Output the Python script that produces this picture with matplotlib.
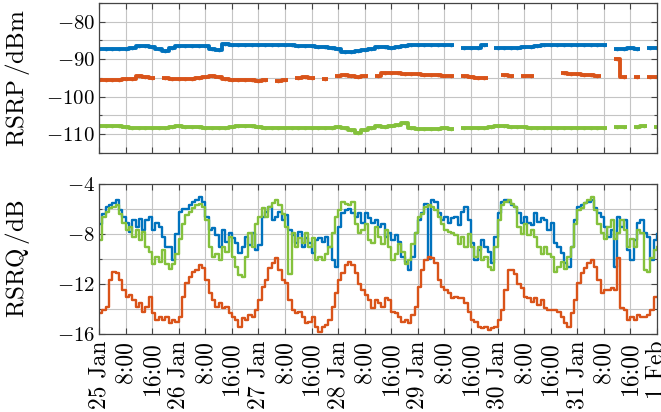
import numpy as np
import pandas as pd
import matplotlib
matplotlib.use("Agg")
import matplotlib.pyplot as plt
from matplotlib.ticker import MultipleLocator

plt.rcParams.update({
    "font.family": "serif",
    "font.serif": ["cmr10"],
    "mathtext.fontset": "cm",
    "axes.formatter.use_mathtext": True,
    "font.size": 15,
})

nan = np.nan

# RSRQ, hourly samples from 25 Jan 0:00 to 1 Feb 0:00 (one row = 8 h)
rsrq_blue = [
    -7.2, -6.4, -5.8, -5.7, -5.5, -5.3, -6.1, -6.6,
    -7.1, -7.8, -6.9, -7.4, -6.8, -7.7, -6.9, -6.6,
    -7.7, -7.1, -7.4, -8.2, -9.0, -9.0, -10.1, -8.0,
    -6.2, -6.0, -6.0, -5.7, -5.4, -5.3, -5.0, -5.4,
    -6.6, -7.7, -7.5, -8.1, -9.0, -7.7, -8.6, -7.9,
    -8.3, -8.7, -9.5, -9.0, -8.2, -8.9, -7.9, -9.3,
    -8.9, -6.6, -6.2, -5.8, -6.9, -6.6, -6.2, -6.9,
    -6.5, -7.7, -8.1, -8.7, -7.8, -9.0, -8.3, -8.7,
    -9.5, -8.5, -8.3, -8.6, -8.2, -9.0, -10.1, -10.6,
    -7.4, -6.3, -6.1, -6.0, -6.3, -6.6, -6.3, -7.1,
    -6.3, -6.7, -7.1, -6.9, -7.4, -7.2, -8.2, -7.9,
    -8.5, -8.1, -8.6, -9.8, -10.2, -10.9, -9.8, -7.9,
    -6.9, -6.3, -5.6, -10.0, -5.3, -5.4, -6.3, -6.9,
    -6.6, -7.1, -6.7, -6.6, -7.3, -6.2, -5.8, -6.9,
    -8.7, -10.1, -9.3, -8.5, -9.0, -9.4, -10.3, -8.2,
    -6.3, -5.4, -5.3, -5.4, -5.7, -5.8, -6.3, -7.1,
    -6.6, -7.1, -7.3, -6.3, -7.0, -6.7, -6.9, -7.7,
    -7.1, -8.7, -9.0, -9.5, -10.3, -10.6, -9.0, -6.9,
    -5.8, -5.7, -5.5, -5.4, -5.3, -5.9, -6.3, -6.6,
    -7.4, -8.2, -7.7, -10.6, -6.6, -7.4, -6.9, -9.3,
    -10.1, -8.5, -7.1, -6.9, -7.9, -8.2, -10.1, -8.5,
    -8.0,
]
rsrq_orange = [
    -14.3, -14.1, -13.8, -11.7, -11.0, -11.1, -11.7, -12.5,
    -13.0, -12.9, -13.3, -13.8, -13.5, -14.2, -13.8, -13.0,
    -14.3, -14.9, -14.6, -14.9, -14.6, -15.1, -14.9, -15.0,
    -14.6, -13.0, -11.9, -11.4, -11.0, -10.9, -10.5, -10.7,
    -11.7, -12.7, -13.3, -13.8, -13.5, -13.9, -13.8, -14.3,
    -14.6, -14.9, -15.4, -14.7, -14.9, -14.5, -14.6, -14.1,
    -13.3, -12.2, -11.7, -10.7, -10.3, -9.9, -10.9, -11.7,
    -11.9, -13.3, -14.1, -14.3, -14.2, -14.6, -15.1, -15.0,
    -14.6, -15.4, -15.8, -15.4, -15.3, -14.9, -13.8, -12.7,
    -11.7, -11.1, -10.5, -10.2, -10.5, -11.1, -12.0, -12.5,
    -12.9, -13.3, -13.9, -13.3, -13.5, -13.8, -13.1, -13.3,
    -14.2, -14.3, -14.6, -15.0, -14.9, -15.1, -14.5, -13.8,
    -12.2, -10.9, -10.1, -9.8, -9.9, -10.3, -11.7, -12.2,
    -12.5, -12.7, -13.1, -13.0, -13.1, -13.1, -13.5, -14.2,
    -14.9, -15.0, -15.4, -15.5, -15.4, -15.7, -15.5, -15.4,
    -14.9, -14.1, -12.5, -10.9, -10.9, -11.2, -12.0, -12.3,
    -13.0, -13.1, -13.4, -13.1, -13.7, -13.3, -13.9, -14.1,
    -14.1, -14.1, -14.2, -14.6, -15.1, -15.4, -14.3, -13.3,
    -11.9, -11.1, -10.7, -10.3, -10.1, -10.6, -11.7, -12.7,
    -12.5, -12.5, -12.3, -12.5, -9.9, -13.9, -14.1, -14.9,
    -14.6, -14.9, -14.5, -14.6, -14.6, -14.5, -14.1, -13.0,
    -13.0,
]
rsrq_green = [
    -8.5, -6.6, -6.2, -5.9, -5.8, -5.7, -6.4, -7.1,
    -7.7, -7.4, -8.2, -7.7, -8.5, -7.8, -9.0, -9.4,
    -10.4, -9.8, -10.2, -9.3, -10.4, -10.8, -10.4, -9.6,
    -8.4, -7.2, -6.5, -6.2, -5.9, -5.7, -5.6, -5.8,
    -6.9, -9.0, -9.8, -9.6, -10.1, -9.0, -9.4, -8.2,
    -9.8, -10.6, -11.3, -11.4, -9.8, -7.9, -9.0, -7.2,
    -6.6, -5.9, -6.6, -5.8, -5.5, -5.3, -5.7, -6.4,
    -7.4, -11.2, -7.9, -9.0, -8.3, -8.7, -7.9, -9.0,
    -8.3, -10.1, -9.8, -10.1, -9.6, -9.0, -7.9, -6.6,
    -6.1, -5.4, -5.6, -5.7, -5.4, -7.2, -7.9, -7.7,
    -7.2, -8.5, -8.7, -7.4, -8.2, -8.8, -7.7, -9.0,
    -10.1, -9.6, -8.8, -9.4, -10.4, -10.1, -8.8, -7.9,
    -6.6, -6.4, -5.8, -5.7, -5.8, -6.1, -6.6, -7.2,
    -7.7, -7.8, -7.9, -8.1, -8.8, -8.2, -9.0, -8.0,
    -9.0, -9.8, -9.0, -10.1, -9.8, -10.6, -10.9, -9.0,
    -6.9, -5.7, -5.4, -5.3, -5.6, -5.8, -7.4, -8.0,
    -7.2, -8.1, -7.7, -8.2, -9.0, -9.6, -9.0, -9.6,
    -9.8, -11.0, -10.6, -10.2, -10.8, -9.8, -9.0, -7.2,
    -6.1, -5.9, -5.5, -5.3, -5.0, -6.1, -7.2, -7.9,
    -8.4, -7.4, -6.9, -8.4, -7.9, -6.9, -7.7, -9.0,
    -8.4, -9.0, -7.7, -7.9, -10.9, -11.0, -9.9, -9.3,
    -9.0,
]

# RSRP, 2-hourly samples (one row = 16 h), nan = no measurement
rsrp_blue = [
    -87.4, -87.4, -87.4, -87.4, -87.3, -87.0, -86.5, -86.4,
    -86.8, -87.2, -87.7, -87.0, -86.5, -86.4, -86.4, -86.5,
    -86.6, -87.4, -87.5, -86.0, -86.2, -86.2, -86.2, -86.2,
    -86.2, -86.2, -86.2, -86.2, -86.3, -86.3, -86.4, -86.4,
    -86.6, -86.7, -86.8, -87.0, -87.2, -88.0, -88.2, -87.8,
    -87.6, -87.3, -86.7, -86.8, -87.0, -86.7, -86.4, -86.2,
    -86.2, -86.2, -86.2, -86.2, -86.2, -86.3, nan, -86.9,
    -87.0, -87.0, -86.3, nan, -87.1, -87.1, -87.0, -86.9,
    -86.8, -86.8, -86.6, -86.3, -86.2, -86.2, -86.2, -86.2,
    -86.2, -86.2, -86.2, -86.2, -86.3, nan, -87.3, -87.2,
    -87.0, -87.3, nan, -87.1,
    -87.0,
]
rsrp_orange = [
    -95.5, -95.5, -95.5, -95.5, -95.4, -95.2, -94.6, -94.7,
    -95.0, nan, -94.9, -95.2, -95.4, -95.3, -95.2, -95.1,
    -94.8, -94.6, -94.7, -95.2, -95.5, -95.5, -95.6, -95.6,
    -95.7, -95.6, nan, -95.7, -95.6, nan, -95.0, -94.7,
    -94.9, nan, -95.4, nan, -94.4, -94.2, -94.5, -94.8,
    -94.6, nan, -94.6, -93.6, -93.6, -93.8, -93.9, -94.0,
    -94.0, -94.1, -94.1, -94.2, -94.4, -94.6, nan, -94.6,
    -94.8, -95.0, -94.9, nan, nan, -94.3, -94.5, nan,
    -94.4, -94.6, nan, nan, nan, nan, -93.7, -93.9,
    -94.0, -94.2, -94.3, -94.5, nan, nan, -90.0, -94.8,
    nan, -94.8, nan, -94.8,
    -94.8,
]
rsrp_green = [
    -107.8, -107.8, -107.8, -107.9, -108.0, -108.3, -108.4, -108.3,
    -108.3, -108.4, -108.2, -108.0, -107.9, -108.0, -108.0, -108.1,
    -108.2, -108.4, -108.4, -108.2, -108.0, -107.7, -107.7, -107.8,
    -108.0, -108.3, -108.4, -108.3, -108.2, -108.2, -108.2, -108.3,
    -108.2, -108.2, -108.3, -108.2, -108.0, -108.3, -108.8, -109.6,
    -109.0, -108.2, -107.9, -108.0, -107.8, -107.4, -107.0, -108.2,
    -108.5, -108.6, -108.5, -108.5, -108.4, -108.5, nan, -108.3,
    -108.2, -108.4, -108.3, -108.0, -107.9, -107.9, -108.0, -108.1,
    -108.1, -108.2, -108.2, -108.3, -108.3, -108.3, -108.4, -108.4,
    -108.3, -108.3, -108.4, -108.4, -108.4, nan, -108.1, -108.0,
    nan, -108.0, -107.9, nan,
    -108.0,
]

tick_labels = ["25 Jan", "8:00", "16:00", "26 Jan", "8:00", "16:00",
               "27 Jan", "8:00", "16:00", "28 Jan", "8:00", "16:00",
               "29 Jan", "8:00", "16:00", "30 Jan", "8:00", "16:00",
               "31 Jan", "8:00", "16:00", "1 Feb"]

t_rsrq = pd.date_range("2024-01-25", periods=len(rsrq_blue), freq="h")
t_rsrp = pd.date_range("2024-01-25", periods=len(rsrp_blue), freq="2h")
t_ticks = pd.date_range("2024-01-25", periods=len(tick_labels), freq="8h")

c_blue = "#0072BD"
c_orange = "#D95319"
c_green = "#84C13C"

fig = plt.figure(figsize=(6.61, 4.12), dpi=100)
ax1 = fig.add_axes([99 / 661, 1 - 153 / 412, 558 / 661, 150 / 412])
ax2 = fig.add_axes([99 / 661, 1 - 334 / 412, 558 / 661, 150 / 412])

for y, c in [(rsrp_blue, c_blue), (rsrp_orange, c_orange), (rsrp_green, c_green)]:
    ax1.plot(t_rsrp, y, color=c, lw=2.8, marker="o", ms=2.6, mew=0,
             drawstyle="steps-mid", solid_capstyle="butt")

ax2.plot(t_rsrq, rsrq_blue, color=c_blue, lw=1.7, drawstyle="steps-post")
ax2.plot(t_rsrq, rsrq_orange, color=c_orange, lw=1.7, drawstyle="steps-post")
ax2.plot(t_rsrq, rsrq_green, color=c_green, lw=1.7, drawstyle="steps-post")

ax1.set_ylim(-115, -75)
ax1.yaxis.set_major_locator(MultipleLocator(10))
ax1.yaxis.set_minor_locator(MultipleLocator(5))
ax2.set_ylim(-16, -4)
ax2.yaxis.set_major_locator(MultipleLocator(4))
ax2.yaxis.set_minor_locator(MultipleLocator(2))

for ax in (ax1, ax2):
    ax.set_xlim(t_ticks[0], t_ticks[-1])
    ax.set_xticks(t_ticks)
    ax.grid(which="both", color="#c4c4c4", lw=0.8)
    ax.set_axisbelow(True)
    ax.tick_params(which="both", direction="in", top=True, right=True,
                   color="#444444", width=0.8)
    ax.tick_params(which="major", length=4, pad=3)
    ax.tick_params(which="minor", length=2.5)
    for s in ax.spines.values():
        s.set_color("#444444")
        s.set_linewidth(0.9)

ax1.set_xticklabels([])
ax2.set_xticklabels(tick_labels, rotation=90, fontsize=17)
ax2.tick_params(axis="x", pad=5)

ax1.set_ylabel(r"RSRP$\,$/dBm", fontsize=18)
ax2.set_ylabel(r"RSRQ$\,$/dB", fontsize=18)
ax1.yaxis.set_label_coords(-0.12, 0.5)
ax2.yaxis.set_label_coords(-0.12, 0.5)

fig.savefig("out.png", dpi=100)
